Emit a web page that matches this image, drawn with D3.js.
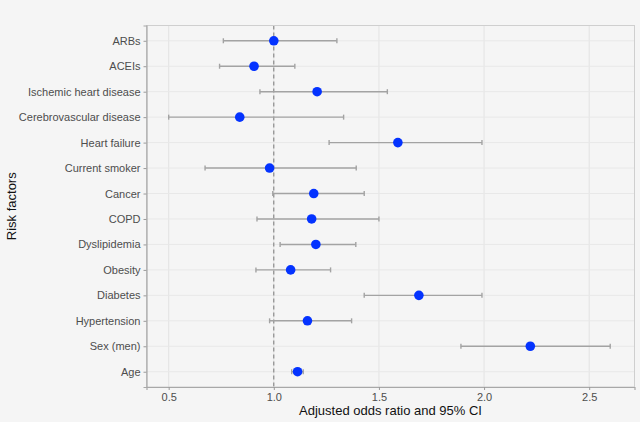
<!DOCTYPE html>
<html><head><meta charset="utf-8">
<script src="https://cdn.jsdelivr.net/npm/d3@7"></script>
<style>body{margin:0;background:#f5f5f5;} svg{display:block;font-family:"Liberation Sans",Arial,sans-serif;}</style>
</head><body>
<svg id="chart" width="640" height="422"></svg>
<script>
const categories = ["ARBs","ACEIs","Ischemic heart disease","Cerebrovascular disease","Heart failure","Current smoker","Cancer","COPD","Dyslipidemia","Obesity","Diabetes","Hypertension","Sex (men)","Age"];
const oddsRatio = [1.00,0.906,1.206,0.838,1.59,0.98,1.19,1.18,1.20,1.08,1.69,1.16,2.22,1.113];
const lowerCI   = [0.76,0.742,0.934,0.50,1.263,0.673,0.995,0.92,1.03,0.915,1.43,0.98,1.89,1.085];
const upperCI   = [1.30,1.10,1.54,1.332,1.99,1.392,1.43,1.50,1.39,1.27,1.99,1.37,2.60,1.14];
const xTicks = [0.5,1.0,1.5,2.0,2.5];

const svg = d3.select("#chart");
const L = 146.5, R = 634.5, T = 25.5, B = 387;
const x = d3.scaleLinear().domain([0.3945, 2.7155]).range([L, R]);
const y = d3.scalePoint().domain(categories).range([T, B]).padding(0.6);

svg.append("rect").attr("width",640).attr("height",422).attr("fill","#f5f5f5");

// gridlines
svg.append("g").selectAll("line").data(xTicks).join("line")
  .attr("x1",d=>x(d)).attr("x2",d=>x(d)).attr("y1",T).attr("y2",B)
  .attr("stroke","#e3e3e3").attr("stroke-width",1);
svg.append("g").selectAll("line").data(categories).join("line")
  .attr("x1",L).attr("x2",R).attr("y1",d=>y(d)).attr("y2",d=>y(d))
  .attr("stroke","#e8e8e8").attr("stroke-width",1);

// reference line
svg.append("line").attr("x1",x(1)).attr("x2",x(1)).attr("y1",T).attr("y2",B)
  .attr("stroke","#7a7a7a").attr("stroke-width",1).attr("stroke-dasharray","4,3");

// panel border
svg.append("rect").attr("x",L).attr("y",T).attr("width",R-L).attr("height",B-T)
  .attr("fill","none").attr("stroke","#cfcfcf").attr("stroke-width",1);

const rows = categories.map((c,i)=>({c, or:oddsRatio[i], lo:lowerCI[i], hi:upperCI[i]}));
const eb = svg.append("g").attr("stroke","#a3a3a3").attr("stroke-width",1.4);
eb.selectAll(".h").data(rows).join("line")
  .attr("x1",d=>x(d.lo)).attr("x2",d=>x(d.hi)).attr("y1",d=>y(d.c)).attr("y2",d=>y(d.c));
eb.selectAll(".l").data(rows).join("line")
  .attr("x1",d=>x(d.lo)).attr("x2",d=>x(d.lo)).attr("y1",d=>y(d.c)-2.5).attr("y2",d=>y(d.c)+2.5);
eb.selectAll(".r").data(rows).join("line")
  .attr("x1",d=>x(d.hi)).attr("x2",d=>x(d.hi)).attr("y1",d=>y(d.c)-2.5).attr("y2",d=>y(d.c)+2.5);

svg.append("g").selectAll("circle").data(rows).join("circle")
  .attr("cx",d=>x(d.or)).attr("cy",d=>y(d.c)).attr("r",4.8).attr("fill","#0433ff");

// axes
const xAxis = svg.append("g").attr("transform",`translate(0,${B})`)
  .call(d3.axisBottom(x).tickValues(xTicks).tickFormat(d3.format(".1f")).tickSize(3).tickPadding(3));
const yAxis = svg.append("g").attr("transform",`translate(${L},0)`)
  .call(d3.axisLeft(y).tickSize(3).tickPadding(3));
[xAxis,yAxis].forEach(a=>{
  a.select(".domain").attr("stroke","#a8a8a8").attr("stroke-width",1.2);
  a.selectAll(".tick line").attr("stroke","#9a9a9a");
  a.selectAll(".tick text").attr("fill","#4d4d4d").style("font-size","11px").style("font-family","Liberation Sans, Arial, sans-serif");
});

svg.append("text").attr("x",(L+R)/2).attr("y",415).attr("text-anchor","middle")
  .attr("fill","#111").style("font-size","13px").text("Adjusted odds ratio and 95% CI");
svg.append("text").attr("transform",`translate(16,${(T+B)/2}) rotate(-90)`).attr("text-anchor","middle")
  .attr("fill","#111").style("font-size","13px").text("Risk factors");
</script>
</body></html>
